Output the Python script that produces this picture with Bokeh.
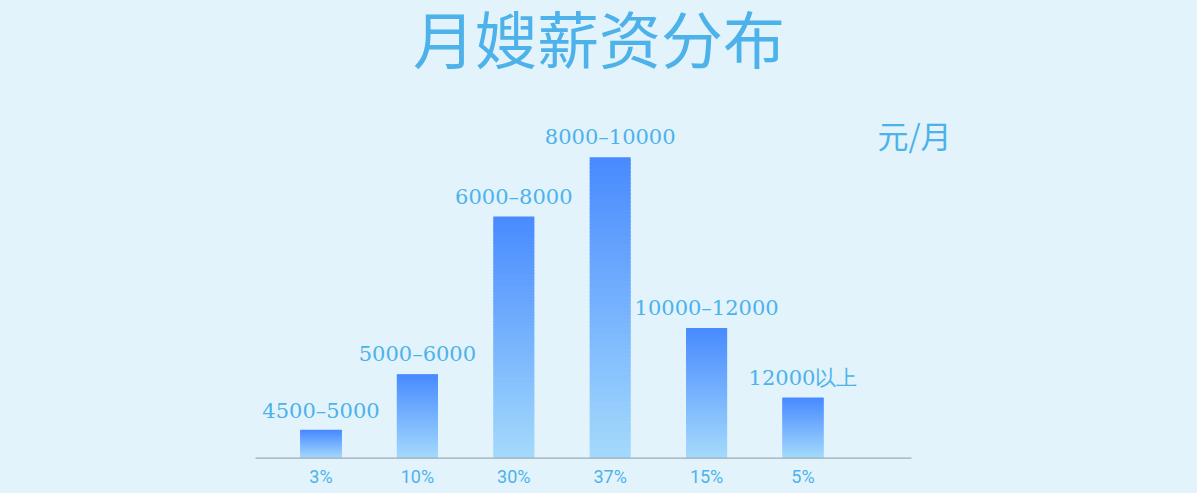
from bokeh.plotting import figure
from bokeh.models import Range1d, Label, ColumnDataSource
from bokeh.core.properties import value
from bokeh.embed import file_html
from bokeh.resources import INLINE
from jinja2 import Template

# ---- data ----
title_text = "月嫂薪资分布"
unit_text = "元/月"
salary_ranges = ["4500–5000", "5000–6000", "6000–8000", "8000–10000", "10000–12000", "12000以上"]
pct_labels = ["3%", "10%", "30%", "37%", "15%", "5%"]
bar_heights = [3.4, 10.3, 29.7, 37.0, 16.0, 7.4]   # visual bar heights
positions = [1, 2, 3, 4, 5, 6]

# ---- style ----
BG = "#e2f3fb"
TEXT_COLOR = "#4db2ea"
TOP_RGB = (72, 138, 255)
BOT_RGB = (164, 218, 252)
N_STEPS = 80

W, H = 1197, 493
px_per_x = 96.4
px_per_y = 8.135
x_start = 1 - 320.5 / px_per_x
x_end = x_start + W / px_per_x
y_start = -(H - 457.7) / px_per_y
y_end = y_start + H / px_per_y

p = figure(width=W, height=H, output_backend="svg", toolbar_location=None,
           x_range=Range1d(x_start, x_end), y_range=Range1d(y_start, y_end),
           min_border=0, min_border_left=0, min_border_right=0,
           min_border_top=0, min_border_bottom=0)
p.axis.visible = False
p.grid.visible = False
p.outline_line_color = None
p.background_fill_color = BG
p.border_fill_color = BG

# gradient bars built from stacked slices
xs, bots, tops, cols = [], [], [], []
for xv, h in zip(positions, bar_heights):
    for i in range(N_STEPS):
        f0 = i / N_STEPS
        f1 = (i + 1) / N_STEPS
        t = (i + 0.5) / N_STEPS
        r = round(BOT_RGB[0] + (TOP_RGB[0] - BOT_RGB[0]) * t)
        g = round(BOT_RGB[1] + (TOP_RGB[1] - BOT_RGB[1]) * t)
        b = round(BOT_RGB[2] + (TOP_RGB[2] - BOT_RGB[2]) * t)
        xs.append(xv)
        bots.append(h * f0)
        tops.append(h * f1 + (0.15 if i < N_STEPS - 1 else 0))
        cols.append("#%02x%02x%02x" % (r, g, b))
src = ColumnDataSource(dict(x=xs, bottom=bots, top=tops, color=cols))
p.vbar(x="x", bottom="bottom", top="top", width=41 / px_per_x, fill_color="color",
       line_color=None, source=src)

# baseline
p.segment(x0=[positions[0] - 65.5 / px_per_x], x1=[positions[-1] + 108.5 / px_per_x],
          y0=[0], y1=[0], line_color="#9eabb6", line_width=1.3)

# range labels above bars
lab_src = ColumnDataSource(dict(x=positions, y=bar_heights, text=salary_ranges))
p.text(x="x", y="y", text="text", source=lab_src, text_align="center",
       text_baseline="alphabetic", y_offset=-20,
       text_font=value("DejaVu Serif"), text_font_size="21px", text_color=TEXT_COLOR)

# percentage labels under baseline
pct_src = ColumnDataSource(dict(x=positions, y=[0] * len(positions), text=pct_labels))
p.text(x="x", y="y", text="text", source=pct_src, text_align="center",
       text_baseline="middle", y_offset=18,
       text_font=value("Roboto"), text_font_size="18px", text_color=TEXT_COLOR)

# title and unit
p.add_layout(Label(x=(x_start + x_end) / 2, y=(457.7 - 36) / px_per_y, text=title_text,
                   text_align="center", text_baseline="middle",
                   text_font="Noto Sans CJK SC", text_font_size="62px", text_color=TEXT_COLOR))
p.add_layout(Label(x=1 + (914 - 320.5) / px_per_x, y=(457.7 - 134) / px_per_y, text=unit_text,
                   text_align="center", text_baseline="middle",
                   text_font="Noto Sans CJK SC", text_font_size="31px", text_color=TEXT_COLOR))

template = Template("""{% extends base %}
{% block preamble %}<style>html,body{background:#e2f3fb;margin:0;padding:0;}</style>{% endblock %}""")
open("out.html", "w").write(file_html(p, INLINE, template=template))
